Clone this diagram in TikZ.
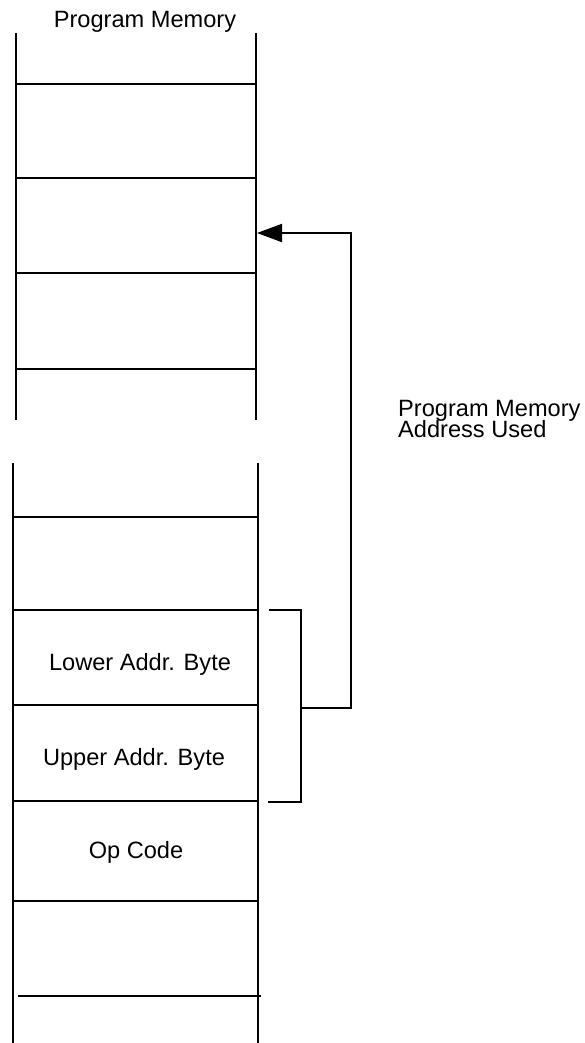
\documentclass[tikz,border=0pt]{standalone}
\usepackage{fontspec}
\setmainfont{Liberation Sans}
\usepackage{tikz}
\usetikzlibrary{arrows.meta,calc}

\newcommand{\lblfont}{\fontsize{23.6}{21.5}\selectfont\lineskiplimit=-20pt\relax}

\begin{document}
\begin{tikzpicture}[
  x=1pt,y=-1pt,
  wall/.style={line width=2pt},
  lbl/.style={inner sep=0pt,font=\lblfont},
  arr/.style={line width=2pt,-{Triangle[length=25pt,width=18pt]}}
]
\useasboundingbox (0,0) rectangle (584,1043);

% upper part of program memory
\node[lbl,anchor=base] (title) at (145,28) {Program Memory};
\draw[wall] (16,33) -- (16,420);
\draw[wall] (256,33) -- (256,420);
\foreach \y in {84,178,273,369}
  \draw[wall] (16,\y) -- (256,\y);
\coordinate (tgt) at (257,233);

% lower part, around the instruction
\draw[wall] (13,463) -- (13,1043);
\draw[wall] (258,463) -- (258,1043);
\foreach \y in {517,610,705,801,901}
  \draw[wall] (13,\y) -- (258,\y);
\draw[wall] (18,996) -- (261,996);

\node[lbl,anchor=base] (lo) at (140,670) {Lower Addr. Byte};
\node[lbl,anchor=base] (hi) at (134,765) {Upper Addr. Byte};
\node[lbl,anchor=base] (op) at (136,858) {Op Code};

% bracket over the two address bytes
\draw[wall] (269,610) -- (301,610) -- (301,802) -- (268,802);
\coordinate (brk) at (301,708);

\draw[arr] (brk) -- ++(50,0) |- (tgt);

\node[lbl,anchor=north west,align=left] (used) at (398,400) {Program Memory\\Address Used};
\end{tikzpicture}
\end{document}
